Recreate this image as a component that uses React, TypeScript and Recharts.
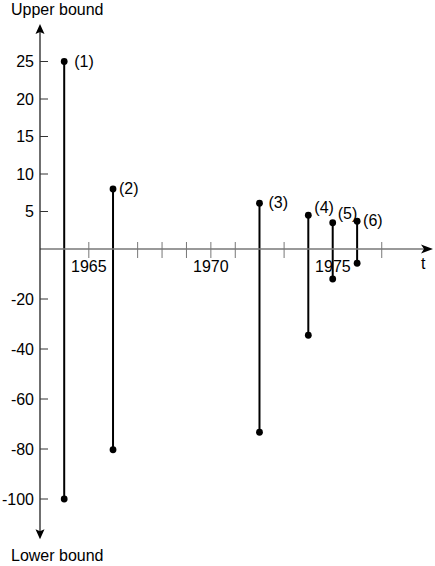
import { ComposedChart, Bar, XAxis, YAxis, ReferenceLine } from 'recharts';

// events: year, upper bound, lower bound
const YEARS = [1964, 1966, 1972, 1974, 1975, 1976];
const UPPER = [25, 8, 6.1, 4.5, 3.5, 3.7];
const LOWER = [-100, -80.3, -73.3, -34.5, -12, -5.7];
const EVENT_LABELS = ['(1)', '(2)', '(3)', '(4)', '(5)', '(6)'];

const Y_TICKS = [25, 20, 15, 10, 5, -20, -40, -60, -80, -100];
const X_TICKS = [1964, 1965, 1966, 1967, 1968, 1969, 1970, 1971, 1972, 1973, 1974, 1975, 1976, 1977];
const X_LABELED = [1965, 1970, 1975];

// label nudges (px) so labels sit like the original
const LABEL_DX = [10, 6, 9, 6, 5, 6];
const LABEL_DY = [0, 0, 0, -7, -9, 0];

const FONT = '"Liberation Sans", Arial, sans-serif';
const FS = 16;
const W = 435;
const H = 566;
const TOP = 24;
const LEFT = 40;
const Y_MAX = 30;
const Y_MIN = -38.7;
const PX_PER_UNIT = 7.5;
const ZERO_Y = TOP + Y_MAX * PX_PER_UNIT;
const X_AXIS_H = 1;

// the lower half of the axis is compressed 3:1
const toDisplay = (v: number) => (v >= 0 ? v : v / 3);
const fromDisplay = (d: number) => (d >= 0 ? d : d * 3);

const data = YEARS.map((year, i) => ({
    year,
    range: [toDisplay(LOWER[i]), toDisplay(UPPER[i])],
    label: EVENT_LABELS[i],
    idx: i,
}));

function Stem(props: any) {
    const { x, y, width, height, payload } = props;
    const cx = x + width / 2;
    const top = Math.min(y, y + height);
    const bot = Math.max(y, y + height);
    const i = payload.idx;
    return (
        <g>
            <line x1={cx} x2={cx} y1={top} y2={bot} stroke="#000" strokeWidth={2} />
            <circle cx={cx} cy={top} r={3.4} fill="#000" />
            <circle cx={cx} cy={bot} r={3.4} fill="#000" />
            <text
                x={cx + LABEL_DX[i]}
                y={top + LABEL_DY[i] + 5}
                fontFamily={FONT}
                fontSize={FS}
                fill="#000"
            >
                {payload.label}
            </text>
        </g>
    );
}

function XTick(props: any) {
    const { x, payload } = props;
    // tick marks under a stem are hidden in the original
    const hidden = YEARS.includes(payload.value);
    return (
        <g>
            {!hidden && (
                <line x1={x} x2={x} y1={ZERO_Y - 7} y2={ZERO_Y + 9} stroke="#777" strokeWidth={1} />
            )}
            {X_LABELED.includes(payload.value) && (
                <text x={x} y={ZERO_Y + 23} textAnchor="middle" fontFamily={FONT} fontSize={FS} fill="#000">
                    {payload.value}
                </text>
            )}
        </g>
    );
}

function YTick(props: any) {
    const { y, payload } = props;
    return (
        <g>
            <line x1={LEFT} x2={LEFT + 8} y1={y} y2={y} stroke="#333" strokeWidth={1} />
            <text x={LEFT - 6} y={y + 5.5} textAnchor="end" fontFamily={FONT} fontSize={FS} fill="#000">
                {Math.round(fromDisplay(payload.value))}
            </text>
        </g>
    );
}

function YAxisArrow(props: any) {
    const { x1, y1, y2 } = props;
    const top = Math.min(y1, y2);
    const bot = Math.max(y1, y2);
    return (
        <g>
            <line x1={x1} x2={x1} y1={top + 4} y2={bot - 4} stroke="#222" strokeWidth={1.3} />
            <path d={`M${x1},${top} L${x1 - 4.5},${top + 10} L${x1},${top + 8} L${x1 + 4.5},${top + 10} Z`} fill="#000" />
            <path d={`M${x1},${bot} L${x1 - 4.5},${bot - 10} L${x1},${bot - 8} L${x1 + 4.5},${bot - 10} Z`} fill="#000" />
        </g>
    );
}

function XAxisArrow(props: any) {
    const { x1, x2, y1 } = props;
    const left = Math.min(x1, x2);
    const right = Math.max(x1, x2);
    return (
        <g>
            <line x1={left} x2={right - 4} y1={y1} y2={y1} stroke="#777" strokeWidth={1.3} />
            <path d={`M${right},${y1} L${right - 12},${y1 - 4.5} L${right - 9},${y1} L${right - 12},${y1 + 4.5} Z`} fill="#000" />
        </g>
    );
}

export default function App() {
    return (
        <div style={{ position: 'absolute', left: 0, top: 0, width: W, height: H, background: '#fff' }}>
            <ComposedChart
                width={W}
                height={H}
                data={data}
                margin={{ top: TOP, right: 2, bottom: H - TOP - (Y_MAX - Y_MIN) * PX_PER_UNIT - X_AXIS_H, left: 0 }}
            >
                <XAxis
                    dataKey="year"
                    type="number"
                    domain={[1963, 1979.1]}
                    allowDataOverflow
                    ticks={X_TICKS}
                    interval={0}
                    height={X_AXIS_H}
                    axisLine={false}
                    tickLine={false}
                    tick={<XTick />}
                />
                <YAxis
                    type="number"
                    domain={[Y_MIN, Y_MAX]}
                    allowDataOverflow
                    ticks={Y_TICKS.map(toDisplay)}
                    interval={0}
                    width={LEFT}
                    axisLine={false}
                    tickLine={false}
                    tick={<YTick />}
                />
                <ReferenceLine y={0} shape={<XAxisArrow />} />
                <ReferenceLine x={1963} shape={<YAxisArrow />} />
                <Bar dataKey="range" barSize={2} shape={<Stem />} isAnimationActive={false} />
            </ComposedChart>
            <div style={{ position: 'absolute', left: 11, top: 0, fontFamily: FONT, fontSize: FS, lineHeight: '19px' }}>
                Upper bound
            </div>
            <div style={{ position: 'absolute', left: 11, top: 546, fontFamily: FONT, fontSize: FS, lineHeight: '19px' }}>
                Lower bound
            </div>
            <div style={{ position: 'absolute', left: 421, top: 254, fontFamily: FONT, fontSize: FS, lineHeight: '19px' }}>
                t
            </div>
        </div>
    );
}
